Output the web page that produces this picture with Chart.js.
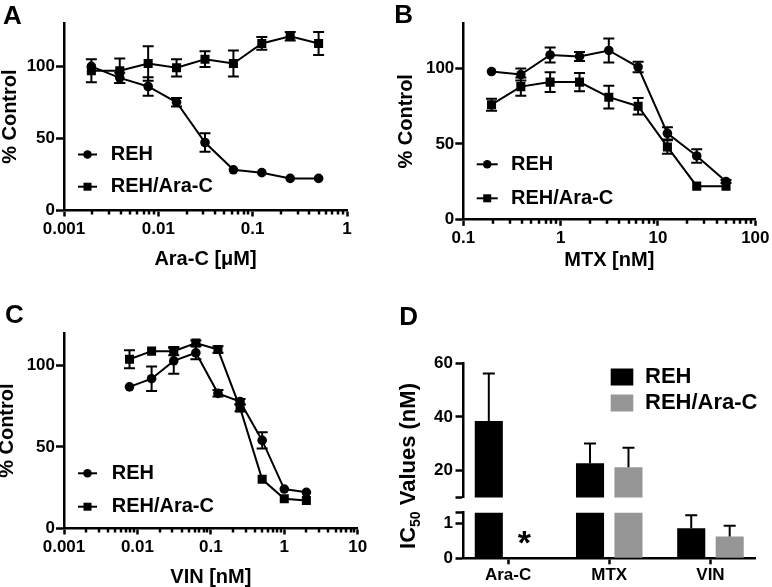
<!DOCTYPE html>
<html>
<head>
<meta charset="utf-8">
<script src="https://cdn.jsdelivr.net/npm/chart.js@4.4.1/dist/chart.umd.min.js"></script>
<style>
  html, body { margin: 0; padding: 0; background: #fff; }
  #fig { position: relative; width: 772px; height: 587px; overflow: hidden; }
  canvas { position: absolute; }
</style>
</head>
<body>
<div id="fig">
  <canvas id="panelA" width="386" height="290" style="left:0;top:0"></canvas>
  <canvas id="panelB" width="386" height="290" style="left:386px;top:0"></canvas>
  <canvas id="panelC" width="386" height="297" style="left:0;top:290px"></canvas>
  <canvas id="panelDtop" width="386" height="297" style="left:386px;top:290px"></canvas>
  <canvas id="panelDbot" width="386" height="92" style="left:386px;top:495px"></canvas>
</div>
<script>
// --- panel A: Ara-C dose response (uM)
const araDose = [0.00195, 0.0039, 0.0078, 0.0156, 0.03125, 0.0625, 0.125, 0.25, 0.5];
const araREH = [100, 92, 86, 75, 47, 28, 26, 22, 22];
const araREHerr = [0, 3.5, 6.5, 3, 6.5, 0, 0, 0, 0];
const araRes = [97, 97, 102, 99, 105, 102, 116, 121, 116];
const araResErr = [8, 8.5, 12, 6, 5.5, 9, 4.5, 3, 8];
const araTicks = [0.001, 0.01, 0.1, 1];
const araTickLabels = ['0.001', '0.01', '0.1', '1'];

// --- panel B: MTX (nM)
const mtxDose = [0.195, 0.39, 0.78, 1.5625, 3.125, 6.25, 12.5, 25, 50];
const mtxREH = [98, 96, 109, 108, 112, 101, 57, 42, 25];
const mtxREHerr = [0, 4, 5, 3, 8, 3.5, 4, 4.5, 1];
const mtxRes = [76, 88, 91, 91, 81, 75, 48, 22, 22];
const mtxResErr = [4, 6, 6.5, 6, 7.5, 5.5, 4.5, 0, 0];
const mtxTicks = [0.1, 1, 10, 100];
const mtxTickLabels = ['0.1', '1', '10', '100'];

// --- panel C: VIN (nM)
const vinDose = [0.0078, 0.0156, 0.03125, 0.0625, 0.125, 0.25, 0.5, 1, 2];
const vinREH = [87, 92, 103, 108, 83, 78, 54, 24, 22];
const vinREHerr = [0, 7.5, 8, 4, 2, 1.5, 5, 0, 0];
const vinRes = [104, 109, 109, 114, 110, 74, 30, 18, 17];
const vinResErr = [5.5, 0, 2.5, 1.5, 2, 2, 0, 0, 0];
const vinTicks = [0.001, 0.01, 0.1, 1, 10];
const vinTickLabels = ['0.001', '0.01', '0.1', '1', '10'];

const controlTicks = [0, 50, 100];

// --- panel D: IC50 values (nM), broken axis
const drugs = ['Ara-C', 'MTX', 'VIN'];
const ic50REH = [38.5, 22.8, 0.86];
const ic50REHerr = [17.7, 7.3, 0.37];
const ic50Res = [0, 21.3, 0.62];
const ic50ResErr = [0, 7.2, 0.31];
const upperTicks = [20, 40, 60];
const lowerTicks = [0, 1];
const sigMarks = [{ drug: 'Ara-C', group: 1, text: '*' }];

const FAM = "'Liberation Sans', Arial, Helvetica, sans-serif";
Chart.defaults.font.family = FAM;
Chart.defaults.font.weight = 'bold';
Chart.defaults.color = '#000';
Chart.defaults.animation = false;
Chart.defaults.responsive = false;
Chart.defaults.events = [];
Chart.defaults.plugins.legend.display = false;
Chart.defaults.plugins.tooltip.enabled = false;

// error bars, minor log ticks, legends and labels
const sketch = {
  id: 'sketch',
  afterDatasetsDraw(chart, args, o) {
    const ctx = chart.ctx, a = chart.chartArea, ys = chart.scales.y;
    ctx.save();
    ctx.beginPath();
    ctx.rect(a.left - 1, a.top - 1, a.right - a.left + 2, a.bottom - a.top + 2);
    ctx.clip();
    ctx.strokeStyle = '#000';
    ctx.lineWidth = 2;
    const cap = o.capHalf || 5.5;
    chart.data.datasets.forEach((ds, di) => {
      if (!ds.errors) return;
      chart.getDatasetMeta(di).data.forEach((el, i) => {
        const e = ds.errors[i];
        if (!e) return;
        const v = ds.data[i].y;
        const hi = ys.getPixelForValue(v + e);
        const lo = ys.getPixelForValue(ds.errorMode === 'up' ? v : v - e);
        ctx.beginPath();
        ctx.moveTo(el.x, lo); ctx.lineTo(el.x, hi);
        ctx.moveTo(el.x - cap, hi); ctx.lineTo(el.x + cap, hi);
        if (ds.errorMode !== 'up') { ctx.moveTo(el.x - cap, lo); ctx.lineTo(el.x + cap, lo); }
        ctx.stroke();
      });
    });
    ctx.restore();
  },
  afterDraw(chart, args, o) {
    const ctx = chart.ctx, a = chart.chartArea;
    const xs = chart.scales.x;
    ctx.save();
    ctx.strokeStyle = '#000';
    ctx.fillStyle = '#000';
    ctx.lineWidth = 2.5;
    // short minor ticks of the log axes (majors come from the scale itself)
    if (xs.options.display !== false) {
      xs.ticks.forEach(t => {
        if (t.major !== false) return;
        const px = Math.round(xs.getPixelForValue(t.value));
        ctx.beginPath();
        ctx.moveTo(px, a.bottom);
        ctx.lineTo(px, a.bottom + 4.5);
        ctx.stroke();
      });
    }
    ctx.lineWidth = 2;

    if (o.legend) {
      const L = o.legend;
      chart.data.datasets.forEach((ds, i) => {
        const y = L.rows[i];
        if (L.kind === 'box') {
          ctx.fillStyle = ds.backgroundColor;
          ctx.fillRect(L.x, y - L.h / 2, L.w, L.h);
        } else {
          ctx.fillStyle = '#000';
          ctx.beginPath(); ctx.moveTo(L.x, y); ctx.lineTo(L.x + L.w, y); ctx.stroke();
          const cx = L.x + L.w / 2;
          if (ds.pointStyle === 'rect') ctx.fillRect(cx - 4, y - 4, 8, 8);
          else { ctx.beginPath(); ctx.arc(cx, y, 4.3, 0, 2 * Math.PI); ctx.fill(); }
        }
        ctx.fillStyle = '#000';
        ctx.font = `bold ${L.size}px ${FAM}`;
        ctx.textAlign = 'left';
        ctx.textBaseline = 'middle';
        ctx.fillText(ds.label, L.textX, y);
      });
    }

    if (o.marks) {
      o.marks.forEach(m => {
        const el = chart.getDatasetMeta(m.group).data[drugs.indexOf(m.drug)];
        ctx.font = `bold 34px ${FAM}`;
        ctx.textAlign = 'center';
        ctx.textBaseline = 'alphabetic';
        ctx.fillText(m.text, el.x - 3, a.bottom - 4);
      });
    }

    if (o.subTitle) {
      const s = o.subTitle;
      ctx.translate(s.x, s.y);
      ctx.rotate(-Math.PI / 2);
      const big = `bold ${s.size}px ${FAM}`, small = `bold ${s.subSize}px ${FAM}`;
      ctx.font = big;
      const w1 = ctx.measureText(s.parts[0]).width, w3 = ctx.measureText(s.parts[2]).width;
      ctx.font = small;
      const w2 = ctx.measureText(s.parts[1]).width;
      let x = -(w1 + w2 + w3) / 2;
      const base = s.size * 0.358;
      ctx.textAlign = 'left';
      ctx.textBaseline = 'alphabetic';
      ctx.font = big; ctx.fillText(s.parts[0], x, base); x += w1;
      ctx.font = small; ctx.fillText(s.parts[1], x, base + s.subShift); x += w2;
      ctx.font = big; ctx.fillText(s.parts[2], x, base);
      ctx.setTransform(1, 0, 0, 1, 0, 0);
    }

    if (o.panel) {
      ctx.font = `bold 26px ${FAM}`;
      ctx.textAlign = 'left';
      ctx.textBaseline = 'alphabetic';
      ctx.fillText(o.panel.text, o.panel.x, o.panel.y);
    }
    ctx.restore();
  }
};
Chart.register(sketch);

const axisBorder = { display: true, color: '#000', width: 2.5 };

function tickGrid(len) {
  return {
    display: true,
    drawOnChartArea: false,
    drawTicks: true,
    tickLength: len,
    tickWidth: 2.5,
    tickColor: c => (c.tick && c.tick.major === false) ? 'rgba(0,0,0,0)' : '#000'
  };
}

function logTicks(decades) {
  const t = [];
  decades.forEach((d, i) => {
    t.push({ value: d, major: true });
    if (i < decades.length - 1) for (let k = 2; k <= 9; k++) t.push({ value: d * k, major: false });
  });
  return t;
}

function lineSet(label, xs, ys, errs, style, r) {
  return {
    label: label,
    data: xs.map((x, i) => ({ x: x, y: ys[i] })),
    errors: errs,
    borderColor: '#000',
    backgroundColor: '#000',
    borderWidth: 2,
    tension: 0,
    pointStyle: style,
    pointRadius: r,
    pointBorderWidth: 0,
    pointBackgroundColor: '#000'
  };
}

function doseChart(id, c) {
  return new Chart(document.getElementById(id), {
    type: 'line',
    data: {
      datasets: [
        lineSet('REH', c.dose, c.reh, c.rehErr, 'circle', 4.8),
        lineSet('REH/Ara-C', c.dose, c.res, c.resErr, 'rect', 6.4)
      ]
    },
    options: {
      devicePixelRatio: 1,
      layout: { padding: c.pad },
      scales: {
        x: {
          type: 'logarithmic',
          min: c.ticks[0],
          max: c.ticks[c.ticks.length - 1],
          grid: tickGrid(6.5),
          border: axisBorder,
          afterBuildTicks: s => { s.ticks = logTicks(c.ticks); },
          afterFit: s => { s.height = c.xH; },
          ticks: {
            autoSkip: false, maxRotation: 0, minRotation: 0, padding: 2.5,
            font: { size: 17 },
            callback: (v, i, t) => {
              if (t[i].major === false) return '';
              const k = c.ticks.findIndex(d => Math.abs(d - v) / d < 1e-6);
              return k < 0 ? '' : c.labels[k];
            }
          },
          title: { display: true, text: c.xTitle, font: { size: 20 }, padding: { top: 0, bottom: c.xTitlePad } }
        },
        y: {
          min: 0,
          max: c.yMax,
          grid: tickGrid(8),
          border: axisBorder,
          afterBuildTicks: s => { s.ticks = controlTicks.map(v => ({ value: v })); },
          afterFit: s => { s.width = c.yW; },
          ticks: { autoSkip: false, padding: 1, font: { size: 17 }, callback: v => String(v) },
          title: { display: true, text: '% Control', font: { size: 20 }, padding: { top: c.yTitlePad, bottom: 0 } }
        }
      },
      plugins: { sketch: { legend: c.legend, panel: c.panel } }
    }
  });
}

doseChart('panelA', {
  dose: araDose, reh: araREH, rehErr: araREHerr, res: araRes, resErr: araResErr,
  ticks: araTicks, labels: araTickLabels, xTitle: 'Ara-C [\u03bcM]', yMax: 130,
  pad: { left: 0, top: 23.3, right: 39, bottom: 0 }, yW: 64, xH: 80, xTitlePad: 19, yTitlePad: -1.5,
  legend: { kind: 'line', x: 78, w: 19, textX: 110.7, rows: [154.5, 186.7], size: 20 },
  panel: { text: 'A', x: 3, y: 23.5 }
});

doseChart('panelB', {
  dose: mtxDose, reh: mtxREH, rehErr: mtxREHerr, res: mtxRes, resErr: mtxResErr,
  ticks: mtxTicks, labels: mtxTickLabels, xTitle: 'MTX [nM]', yMax: 130,
  pad: { left: 0, top: 23.3, right: 16, bottom: 0 }, yW: 77.3, xH: 70.7, xTitlePad: 17.5, yTitlePad: 8.6,
  legend: { kind: 'line', x: 90.7, w: 21, textX: 125, rows: [164.3, 198.3], size: 20 },
  panel: { text: 'B', x: 8.3, y: 23.3 }
});

doseChart('panelC', {
  dose: vinDose, reh: vinREH, rehErr: vinREHerr, res: vinRes, resErr: vinResErr,
  ticks: vinTicks, labels: vinTickLabels, xTitle: 'VIN [nM]', yMax: 120,
  pad: { left: 0, top: 43.3, right: 28.3, bottom: 0 }, yW: 64, xH: 59, xTitlePad: -2, yTitlePad: -5,
  legend: { kind: 'line', x: 78, w: 19, textX: 111.7, rows: [183.3, 216.7], size: 20 },
  panel: { text: 'C', x: 5, y: 33.3 }
});

function barSet(label, vals, errs, color) {
  return {
    label: label,
    data: vals.map((v, i) => ({ x: i, y: v })),
    errors: errs,
    errorMode: 'up',
    backgroundColor: color,
    borderWidth: 0,
    categoryPercentage: 0.76,
    barPercentage: 0.73,
    clip: 0
  };
}

function icChart(id, c) {
  return new Chart(document.getElementById(id), {
    type: 'bar',
    data: {
      datasets: [
        barSet('REH', ic50REH, ic50REHerr, '#000'),
        barSet('REH/Ara-C', ic50Res, ic50ResErr, '#969696')
      ]
    },
    options: {
      devicePixelRatio: 1,
      layout: { padding: c.pad },
      scales: {
        x: {
          type: 'linear',
          display: c.showX,
          offset: false,
          min: -0.44,
          max: drugs.length - 1 + 0.44,
          grid: Object.assign(tickGrid(6), { offset: false }),
          border: axisBorder,
          afterBuildTicks: s => { s.ticks = drugs.map((d, i) => ({ value: i })); },
          afterFit: s => { s.height = c.xH; },
          ticks: { autoSkip: false, maxRotation: 0, padding: 0.5, font: { size: 17 }, callback: v => drugs[v] || '' }
        },
        y: {
          min: c.yMin,
          max: c.yMax,
          grid: tickGrid(8),
          border: axisBorder,
          afterBuildTicks: s => { s.ticks = c.yTicks.concat([c.capTick]).map(v => ({ value: v })); },
          afterFit: s => { s.width = 77.5; },
          ticks: { autoSkip: false, padding: 2.5, font: { size: 17 }, callback: v => c.yTicks.includes(v) ? String(v) : '' }
        }
      },
      plugins: {
        sketch: {
          capHalf: 6,
          legend: c.legend, panel: c.panel, marks: c.marks, subTitle: c.subTitle
        }
      }
    }
  });
}

icChart('panelDtop', {
  showX: false, xH: 0, yMin: 10, yMax: 60, yTicks: upperTicks, capTick: 10,
  pad: { left: 0, top: 73.3, right: 17, bottom: 89.5 },
  legend: { kind: 'box', x: 224.7, w: 22.6, h: 17, textX: 259, rows: [87, 113], size: 22 },
  panel: { text: 'D', x: 13.3, y: 35 },
  subTitle: { x: 21, y: 176, size: 22, subSize: 14, subShift: 5, parts: ['IC', '50', ' Values (nM)'] }
});

icChart('panelDbot', {
  showX: true, xH: 28.7, yMin: 0, yMax: 1.3, yTicks: lowerTicks, capTick: 1.3,
  pad: { left: 0, top: 17.7, right: 17, bottom: 0 },
  marks: sigMarks
});
</script>
</body>
</html>
